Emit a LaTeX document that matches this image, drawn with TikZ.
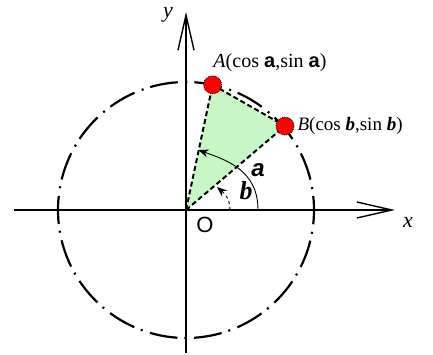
\documentclass[tikz,border=0pt]{standalone}
\usepackage{fontspec}
\setmainfont{Liberation Serif}
\setsansfont{Liberation Sans}
\usetikzlibrary{arrows.meta,positioning}
\definecolor{Wedge}{HTML}{C6F7C4}
\definecolor{Dot}{HTML}{FF0000}
\newcommand{\fs}[1]{\fontsize{#1}{#1}\selectfont}

\begin{document}
\begin{tikzpicture}[x=1pt,y=1pt,
  axis/.style={line width=2.6pt,-{Straight Barb[length=35pt,width=16pt,line width=1.4pt]}},
  circ/.style={line width=2.2pt,dash pattern=on 28pt off 7pt on 2pt off 7.67pt,dash phase=14pt},
  edge/.style={line width=2pt,dash pattern=on 5pt off 3pt},
  reddot/.style={circle,fill=Dot,draw=black,densely dotted,line width=0.8pt,minimum size=18pt,inner sep=0pt},
  turn/.style={line width=0.9pt,-{Stealth[length=10pt,width=8pt]}},
  lab/.style={inner sep=1pt}
]
\useasboundingbox (-186,-144) rectangle (247,210);
\coordinate (O) at (0,0);
\coordinate (a) at (78:128);
\coordinate (b) at (40.3:129.8);
% shaded triangle
\fill[Wedge] (O) -- (a) -- (b) -- cycle;
% angle arcs
\coordinate (a0) at (72,0);
\coordinate (a1) at (12.5,60);
\coordinate (b0) at (44,0);
\coordinate (b1) at (31,23);
\draw[turn] (a0) .. controls (72,40) and (40,50) .. (a1);
\draw[turn,dashed] (b0) .. controls (44,12) and (38,17) .. (b1);
% unit circle
\draw[circ] (O) circle[radius=128];
% axes
\coordinate (xl) at (-172,0);
\coordinate (xr) at (209,0);
\coordinate (yb) at (0,-143);
\coordinate (yt) at (0,198);
\draw[axis] (xl) -- (xr);
\draw[axis] (yb) -- (yt);
% triangle sides
\draw[edge] (O) -- (a);
\draw[edge] (O) -- (b);
\draw[edge] (a) -- (b);
% points
\node[reddot] (A) at (a) {};
\node[reddot] (B) at (b) {};
% labels
\node[lab] (Alab) at (84,147) {\fs{20}\textit{A}(cos \textsf{\textbf{a}},sin \textsf{\textbf{a}})};
\node[lab,right=2pt of B] (Blab) {\fs{19}\textit{B}(cos \textbf{\textit{b}},sin \textbf{\textit{b}})};
\node (alab) at (72,40) {\fs{24}\sffamily\bfseries\itshape a};
\node (blab) at (60,19) {\fs{26}\bfseries\itshape b};
\node (Olab) at (19,-15) {\fs{22}\sffamily O};
\node (xlab) at (222,-12) {\fs{22}\itshape x};
\node (ylab) at (-18,195) {\fs{22}\itshape y};
\end{tikzpicture}
\end{document}
